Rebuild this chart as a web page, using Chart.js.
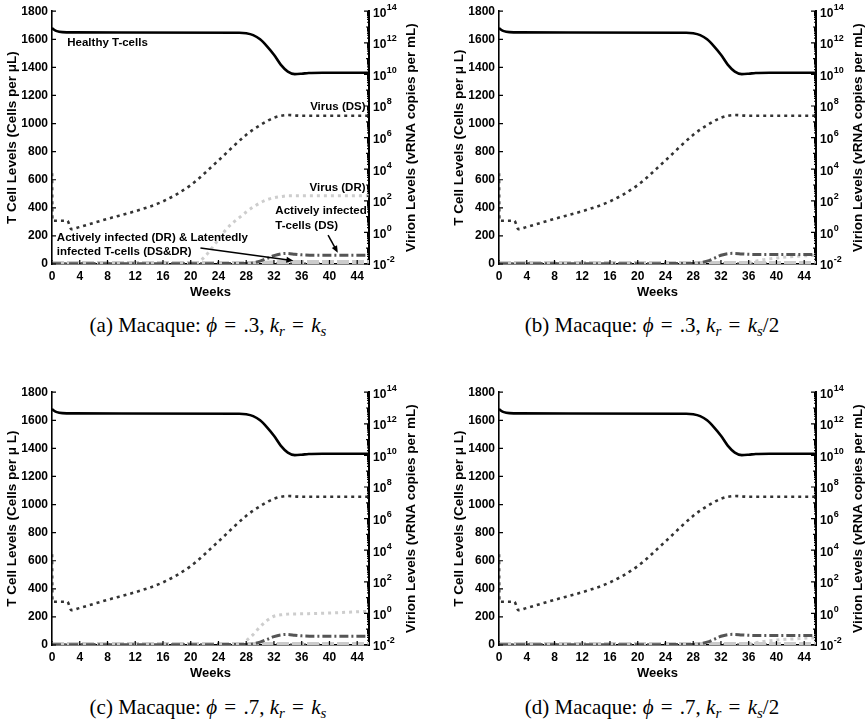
<!DOCTYPE html>
<html>
<head>
<meta charset="utf-8">
<script src="https://cdn.jsdelivr.net/npm/chart.js@4"></script>
<style>
  body { margin: 0; background: #fff; }
  #wrap { position: relative; width: 867px; height: 721px; }
  canvas { position: absolute; }
  .caption {
    position: absolute; width: 400px; text-align: center;
    font: 21px "Liberation Serif", "Times New Roman", serif; line-height: 24px; color: #000;
  }
  .caption sub { font-size: 15px; vertical-align: -4px; line-height: 0; }
  .caption .eq { margin: 0 2px; }
</style>
</head>
<body>
<div id="wrap">
  <canvas id="plotA" width="433" height="300" style="left:0;top:0"></canvas>
  <canvas id="plotB" width="433" height="300" style="left:447px;top:0"></canvas>
  <canvas id="plotC" width="433" height="300" style="left:0;top:381px"></canvas>
  <canvas id="plotD" width="433" height="300" style="left:447px;top:381px"></canvas>
  <div class="caption" style="left:8px;top:313px">(a) Macaque: <i>ϕ</i> <span class="eq">=</span> .3, <i>k<sub>r</sub></i> <span class="eq">=</span> <i>k<sub>s</sub></i></div>
  <div class="caption" style="left:452px;top:313px">(b) Macaque: <i>ϕ</i> <span class="eq">=</span> .3, <i>k<sub>r</sub></i> <span class="eq">=</span> <i>k<sub>s</sub></i>/2</div>
  <div class="caption" style="left:8px;top:695px">(c) Macaque: <i>ϕ</i> <span class="eq">=</span> .7, <i>k<sub>r</sub></i> <span class="eq">=</span> <i>k<sub>s</sub></i></div>
  <div class="caption" style="left:452px;top:695px">(d) Macaque: <i>ϕ</i> <span class="eq">=</span> .7, <i>k<sub>r</sub></i> <span class="eq">=</span> <i>k<sub>s</sub></i>/2</div>
</div>
<script>
// T cells per uL (left axis)
const weeksHealthy = [0, 0.3, 0.7, 1.5, 3, 27, 28, 29, 30, 31, 32, 33, 34, 35, 36, 37, 39, 45.7]
const healthyCells = [1680, 1668, 1658, 1651, 1649, 1647, 1643, 1630, 1600, 1550, 1490, 1418, 1370, 1352, 1355, 1360, 1362, 1362]

const weeksInfected = [0, 28, 29, 30, 31, 32, 33, 33.8, 35, 36, 38, 45.7]
const infectedDS_ac = [2, 3, 8, 20, 40, 60, 72, 75, 70, 65, 62, 62]
const infectedDS_bd = [2, 3, 8, 20, 40, 62, 74, 76, 72, 69, 68, 68]

const weeksInfectedDR = [0, 30, 33, 45.7]
const infectedDR_a = [7, 7, 14, 14]
const infectedDR_bcd = [7, 7, 7, 7]

const weeksLatent = [0, 45.7]
const latentDS = [3, 3]

// virion copies per mL (right axis, log)
const weeksVirusDS = [0, 0.05, 2.2, 2.8, 4, 8, 12, 16, 20, 24, 28, 30, 32, 34, 36, 45.7]
const virusDS = [5.5e3, 5.5, 5.5, 1.6, 2.2, 7.2, 22, 92, 990, 3.6e4, 1.5e6, 6.1e6, 1.8e7, 2.7e7, 2.4e7, 2.4e7]

const weeksVirusDR_a = [20.8, 22, 23, 24, 25, 26, 27, 28, 29, 30, 31, 32, 33, 34, 45.7]
const virusDR_a = [0.01, 0.028, 0.095, 0.36, 1.36, 3.8, 8.6, 19.5, 40, 74, 118, 157, 185, 205, 205]
const weeksVirusDR_b = [35, 36, 37, 38, 40, 42, 44, 45.7]
const virusDR_b = [0.01, 0.0123, 0.0151, 0.0185, 0.0236, 0.029, 0.0328, 0.0356]
const weeksVirusDR_c = [27.3, 28, 29, 30, 31, 32, 33, 34, 36, 40, 45.7]
const virusDR_c = [0.01, 0.0185, 0.046, 0.143, 0.36, 0.66, 0.81, 0.9, 0.94, 1.06, 1.36]
const weeksVirusDR_d = [35, 36, 38, 40, 42, 44, 45.7]
const virusDR_d = [0.01, 0.0118, 0.0167, 0.0205, 0.0236, 0.0267, 0.029]

const cellTicks = [0, 200, 400, 600, 800, 1000, 1200, 1400, 1600, 1800]
const weekTicks = [0, 4, 8, 12, 16, 20, 24, 28, 32, 36, 40, 44]
const virionExponents = [-2, 0, 2, 4, 6, 8, 10, 12, 14]

const notesA = [
  { text: 'Healthy T-cells', week: 2.2, level: 1578, align: 'left' },
  { text: 'Virus (DS)', week: 45.2, level: 1116, align: 'right' },
  { text: 'Virus (DR)', week: 45.2, level: 540, align: 'right' },
  { text: 'Actively infected', week: 32.2, level: 377, align: 'left' },
  { text: 'T-cells (DS)', week: 32.2, level: 270, align: 'left' },
  { text: 'Actively infected (DR) & Latentedly', week: 0.7, level: 185, align: 'left' },
  { text: 'infected T-cells (DS&DR)', week: 0.7, level: 85, align: 'left' },
]
const arrowsA = [
  { from: [39.8, 206], to: [41.2, 80] },
  { from: [21.4, 114], to: [34.8, 24] },
]

const panels = [
  { id: 'plotA', ds: infectedDS_ac, dr: infectedDR_a, vw: weeksVirusDR_a, vdr: virusDR_a, label: 'T Cell Levels (Cells per μL)', notes: notesA, arrows: arrowsA },
  { id: 'plotB', ds: infectedDS_bd, dr: infectedDR_bcd, vw: weeksVirusDR_b, vdr: virusDR_b, label: 'T Cell Levels (Cells per μ L)', notes: [], arrows: [] },
  { id: 'plotC', ds: infectedDS_ac, dr: infectedDR_bcd, vw: weeksVirusDR_c, vdr: virusDR_c, label: 'T Cell Levels (Cells per μ L)', notes: [], arrows: [] },
  { id: 'plotD', ds: infectedDS_bd, dr: infectedDR_bcd, vw: weeksVirusDR_d, vdr: virusDR_d, label: 'T Cell Levels (Cells per μ L)', notes: [], arrows: [] },
]

const FONT = '"Liberation Sans", Arial, sans-serif'
const pts = (xs, ys) => xs.map((x, i) => ({ x, y: ys[i] }))

const vertical = (ctx, text, cx, cy) => {
  ctx.save()
  ctx.translate(cx, cy)
  ctx.rotate(-Math.PI / 2)
  ctx.textAlign = 'center'
  ctx.textBaseline = 'middle'
  ctx.fillText(text, 0, 0)
  ctx.restore()
}

const makeMarks = (panel) => ({
  id: 'axisMarks',
  afterDatasetsDraw(chart) {
    const { ctx, chartArea: area, scales: { x, y, y2 } } = chart
    ctx.save()
    ctx.strokeStyle = '#000'
    ctx.lineWidth = 1.2
    ctx.beginPath()
    weekTicks.forEach(w => {
      const px = x.getPixelForValue(w)
      ctx.moveTo(px, area.bottom); ctx.lineTo(px, area.bottom - 4)
    })
    cellTicks.forEach(c => {
      const py = y.getPixelForValue(c)
      ctx.moveTo(area.left, py); ctx.lineTo(area.left + 4, py)
    })
    for (let e = -2; e <= 14; e++) {
      for (let m = 1; m <= 9; m++) {
        if (e === 14 && m > 1) break
        const py = y2.getPixelForValue(m * Math.pow(10, e))
        const len = m === 1 ? (e % 2 === 0 ? 5 : 3) : 2
        ctx.moveTo(area.right + 1, py); ctx.lineTo(area.right - len, py)
      }
    }
    ctx.stroke()

    ctx.fillStyle = '#000'
    ctx.textAlign = 'left'
    ctx.textBaseline = 'middle'
    virionExponents.forEach(n => {
      const py = y2.getPixelForValue(Math.pow(10, n))
      ctx.font = 'bold 12px ' + FONT
      ctx.fillText('10', area.right + 4, py + 2)
      const w = ctx.measureText('10').width
      ctx.font = 'bold 9px ' + FONT
      ctx.fillText(String(n), area.right + 4 + w + 0.5, py - 4)
    })

    const mid = (area.top + area.bottom) / 2
    ctx.font = 'bold 13.5px ' + FONT
    vertical(ctx, panel.label, 12.5, mid)
    vertical(ctx, 'Virion Levels (vRNA copies per mL)', area.right + 42, mid)

    ctx.font = 'bold 11.5px ' + FONT
    panel.notes.forEach(n => {
      ctx.textAlign = n.align
      ctx.fillText(n.text, x.getPixelForValue(n.week), y.getPixelForValue(n.level))
    })
    panel.arrows.forEach(a => {
      const x0 = x.getPixelForValue(a.from[0]), y0 = y.getPixelForValue(a.from[1])
      const x1 = x.getPixelForValue(a.to[0]), y1 = y.getPixelForValue(a.to[1])
      const ang = Math.atan2(y1 - y0, x1 - x0)
      ctx.lineWidth = 1.5
      ctx.beginPath()
      ctx.moveTo(x0, y0); ctx.lineTo(x1 - 5 * Math.cos(ang), y1 - 5 * Math.sin(ang))
      ctx.stroke()
      ctx.beginPath()
      ctx.moveTo(x1, y1)
      ctx.lineTo(x1 - 7 * Math.cos(ang) + 3 * Math.sin(ang), y1 - 7 * Math.sin(ang) - 3 * Math.cos(ang))
      ctx.lineTo(x1 - 7 * Math.cos(ang) - 3 * Math.sin(ang), y1 - 7 * Math.sin(ang) + 3 * Math.cos(ang))
      ctx.closePath()
      ctx.fill()
    })
    ctx.restore()
  }
})

const line = (label, data, axis, color, width, dash, order) => ({
  label, data, yAxisID: axis, order,
  borderColor: color, borderWidth: width, borderDash: dash, borderCapStyle: 'butt',
  pointRadius: 0, fill: false, cubicInterpolationMode: 'monotone',
})

panels.forEach(panel => {
  new Chart(document.getElementById(panel.id), {
    type: 'line',
    data: {
      datasets: [
        line('Healthy T-cells', pts(weeksHealthy, healthyCells), 'y', '#000', 2.6, [], 0),
        line('Actively infected T-cells (DS)', pts(weeksInfected, panel.ds), 'y', '#555', 3, [9, 3, 2, 3], 1),
        line('Virus (DS)', pts(weeksVirusDS, virusDS), 'y2', '#333', 2.6, [3, 4], 2),
        line('Virus (DR)', pts(panel.vw, panel.vdr), 'y2', '#cdcdcd', 3, [3, 4], 3),
        line('Actively infected T-cells (DR)', pts(weeksInfectedDR, panel.dr), 'y', '#cbcbcb', 4, [12, 3], 4),
        line('Latently infected T-cells (DS&DR)', pts(weeksLatent, latentDS), 'y', '#444', 2, [2, 12], 5),
      ]
    },
    options: {
      responsive: false,
      animation: false,
      layout: { padding: { top: 11, left: 0, right: 0, bottom: 0 } },
      plugins: { legend: { display: false }, tooltip: { enabled: false } },
      scales: {
        x: {
          type: 'linear', min: 0, max: 45.7,
          afterFit: s => { s.height = 36 },
          afterBuildTicks: s => { s.ticks = weekTicks.map(value => ({ value })) },
          grid: { drawOnChartArea: false, drawTicks: false },
          border: { display: true, color: '#000', width: 1.6 },
          ticks: { color: '#000', padding: 5, callback: v => String(v), font: { family: FONT, size: 12, weight: 'bold' } },
          title: { display: true, text: 'Weeks', color: '#000', padding: { top: 0, bottom: 0 }, font: { family: FONT, size: 13, weight: 'bold' } },
        },
        y: {
          type: 'linear', position: 'left', min: 0, max: 1800,
          afterFit: s => { s.width = 52 },
          afterBuildTicks: s => { s.ticks = cellTicks.map(value => ({ value })) },
          grid: { drawOnChartArea: false, drawTicks: false },
          border: { display: true, color: '#000', width: 1.6 },
          ticks: { color: '#000', padding: 4, callback: v => String(v), font: { family: FONT, size: 12, weight: 'bold' } },
        },
        y2: {
          type: 'logarithmic', position: 'right', min: 1e-2, max: 1e14,
          afterFit: s => { s.width = 64 },
          afterBuildTicks: s => { s.ticks = virionExponents.map(n => ({ value: Math.pow(10, n) })) },
          grid: { drawOnChartArea: false, drawTicks: false },
          border: { display: true, color: '#000', width: 2 },
          ticks: { display: false },
        },
      }
    },
    plugins: [makeMarks(panel)]
  })
})
</script>
</body>
</html>
